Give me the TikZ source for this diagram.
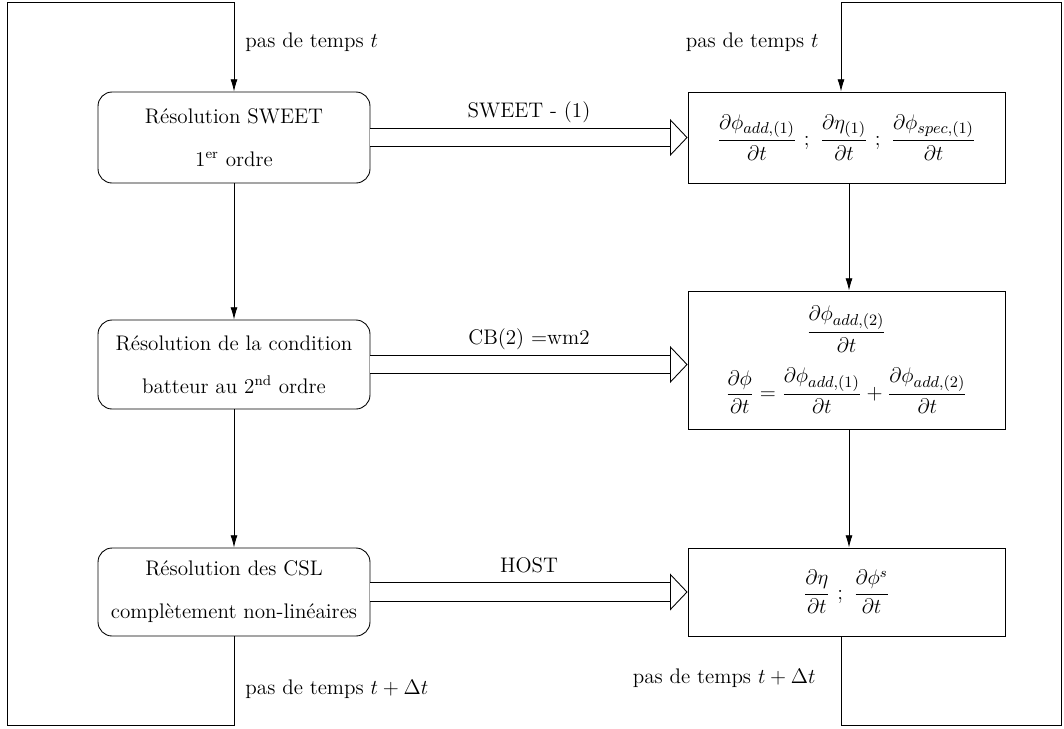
\documentclass[12pt,tikz,border=0pt]{standalone}
\usepackage{amsmath,amssymb}
\usepackage{tikz}
\usetikzlibrary{positioning,calc}
\usetikzlibrary{arrows.meta}

% indices of the potentials, set a bit larger
\newcommand{\sousind}[1]{_{\mbox{\fontsize{9pt}{11pt}\selectfont$#1$}}}

\begin{document}
\begin{tikzpicture}[x=0.02cm,y=-0.02cm, line width=0.5pt,
    boite/.style={draw, rounded corners=8pt, minimum width=5.44cm, minimum height=1.8cm, inner sep=2pt, align=center},
    boiteres/.style={draw, minimum width=6.34cm, inner sep=2pt, align=center},
    fleche/.style={-{Latex[length=7pt,width=4pt]}},
    grosse/.style={double, double distance=10pt, -{Triangle[open,length=10pt,width=21pt]}},
    etiq/.style={above=4pt, text depth=3pt}]

    % frame of the picture
    \useasboundingbox (0,0) rectangle (1064,728);

    % coins of the two loops
    \coordinate (HG) at (7,2);
    \coordinate (BG) at (7,725);
    \coordinate (HD) at (1061,2);
    \coordinate (BD) at (1061,725);

    % left column : resolutions
    \node[boite, minimum height=1.82cm] (R1) at (234,137.5) {R\'esolution SWEET\\[10pt] 1\textsuperscript{er} ordre};
    \node[boite, minimum height=1.78cm] (R2) at (234,364.5) {R\'esolution de la condition\\[10pt] batteur au 2\textsuperscript{nd} ordre};
    \node[boite, minimum height=1.76cm] (R3) at (234,592) {R\'esolution des CSL\\[10pt] compl\`etement non-lin\'eaires};

    % right column : results
    \node[boiteres, minimum height=1.82cm] (S1) at (846.5,137.5)
         {$\dfrac{\partial \phi\sousind{add{,}(1)}}{\partial t}\ ;\ \dfrac{\partial \eta\sousind{(1)}}{\partial t}\ ;\ \dfrac{\partial \phi\sousind{spec{,}(1)}}{\partial t}$};
    \node[boiteres, minimum height=2.76cm] (S2) at (846.5,360)
         {$\dfrac{\partial \phi\sousind{add{,}(2)}}{\partial t}$\\[8pt]
          $\dfrac{\partial \phi}{\partial t} = \dfrac{\partial \phi\sousind{add{,}(1)}}{\partial t} + \dfrac{\partial \phi\sousind{add{,}(2)}}{\partial t}$};
    \node[boiteres, minimum height=1.76cm] (S3) at (846.5,592)
         {$\dfrac{\partial \eta}{\partial t}\ ;\ \dfrac{\partial \phi^{s}}{\partial t}$};

    % big arrows between the columns
    \draw[grosse] (R1.east) -- node[etiq] {SWEET - (1)} (R1.east -| S1.west);
    \draw[grosse] (R2.east) -- node[etiq] {CB(2) =wm2} (R2.east -| S2.west);
    \draw[grosse] (R3.east) -- node[etiq] {HOST} (R3.east -| S3.west);

    % vertical arrows
    \draw[fleche] (R1.south) -- (R2.north);
    \draw[fleche] (R2.south) -- (R3.north);
    \draw[fleche] ($(S1.south)+(2.5,0)$) -- ($(S2.north)+(2.5,0)$);
    \draw[fleche] ($(S2.south)+(2.5,0)$) -- ($(S3.north)+(2.5,0)$);

    % loop on the left
    \draw[fleche] (R3.south) -- (R3.south |- BG) -- (BG) -- (HG) -- (HG -| R1.north) -- (R1.north);

    % loop on the right
    \coordinate (SB) at ($(S3.south)+(-5.5,0)$);
    \coordinate (SH) at ($(S1.north)+(-5.5,0)$);
    \draw[fleche] (SB) -- (SB |- BD) -- (BD) -- (HD) -- (HD -| SH) -- (SH);

    % time step labels
    \node[anchor=west] (tg) at (238,42) {pas de temps $t$};
    \node[anchor=east] (td) at (826,42) {pas de temps $t$};
    \node[anchor=west] (tdg) at (238,689) {pas de temps $t + \Delta t$};
    \node[anchor=east] (tdd) at (823,678) {pas de temps $t + \Delta t$};

\end{tikzpicture}
\end{document}
